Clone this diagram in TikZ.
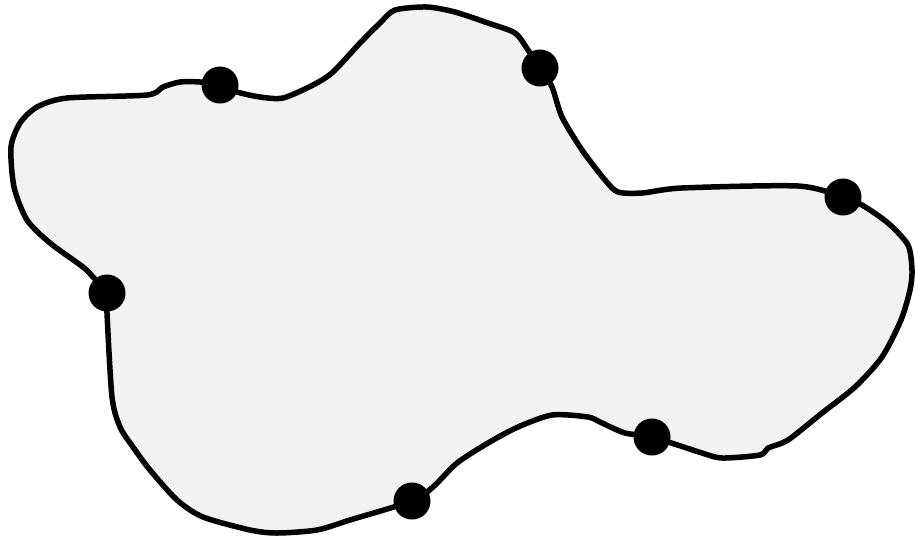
\documentclass[tikz,border=0pt]{standalone}
\usetikzlibrary{calc}
\definecolor{blobfill}{HTML}{F2F2F2}
\tikzset{
  blob/.style={draw=black, fill=blobfill, line width=5.5pt, line join=round},
  dotnode/.style={circle, fill=black, inner sep=0pt, minimum size=37pt}
}
\begin{document}
\begin{tikzpicture}[x=1pt,y=-1pt]
\useasboundingbox (0,0) rectangle (915,539);
\draw[blob] plot[smooth cycle, tension=0.45] coordinates {
(395,10) (427,7) (455,12) (488,23) (515,33) (528,50) (540,68) (552,87) (562,117) (582,150) (605,180) (618,192) (642,193) (682,188) (798,186) (843,197) (862,205) (888,223) (908,245) (912,270) (910,290) (901,320) (882,357) (855,387) (822,413) (788,440) (768,448) (760,455) (722,458) (702,453) (652,437) (625,433) (602,423) (588,417) (552,415) (518,427) (488,443) (457,463) (433,487) (412,501) (350,520) (317,530) (277,533) (250,530) (203,517) (177,500) (150,470) (133,447) (120,427) (112,397) (107,313) (107,293) (93,277) (83,267) (50,243) (27,220) (14,187) (11,147) (20,123) (37,107) (67,98) (147,95) (163,87) (180,82) (200,82) (220,85) (237,92) (260,97) (283,98) (313,85) (333,72) (360,43) (380,23)
};
\node[dotnode] (d1) at (220,85) {};
\node[dotnode] (d2) at (540,68) {};
\node[dotnode] (d3) at (843,197) {};
\node[dotnode] (d4) at (107,293) {};
\node[dotnode] (d5) at (412,501) {};
\node[dotnode] (d6) at (652,437) {};
\end{tikzpicture}
\end{document}
